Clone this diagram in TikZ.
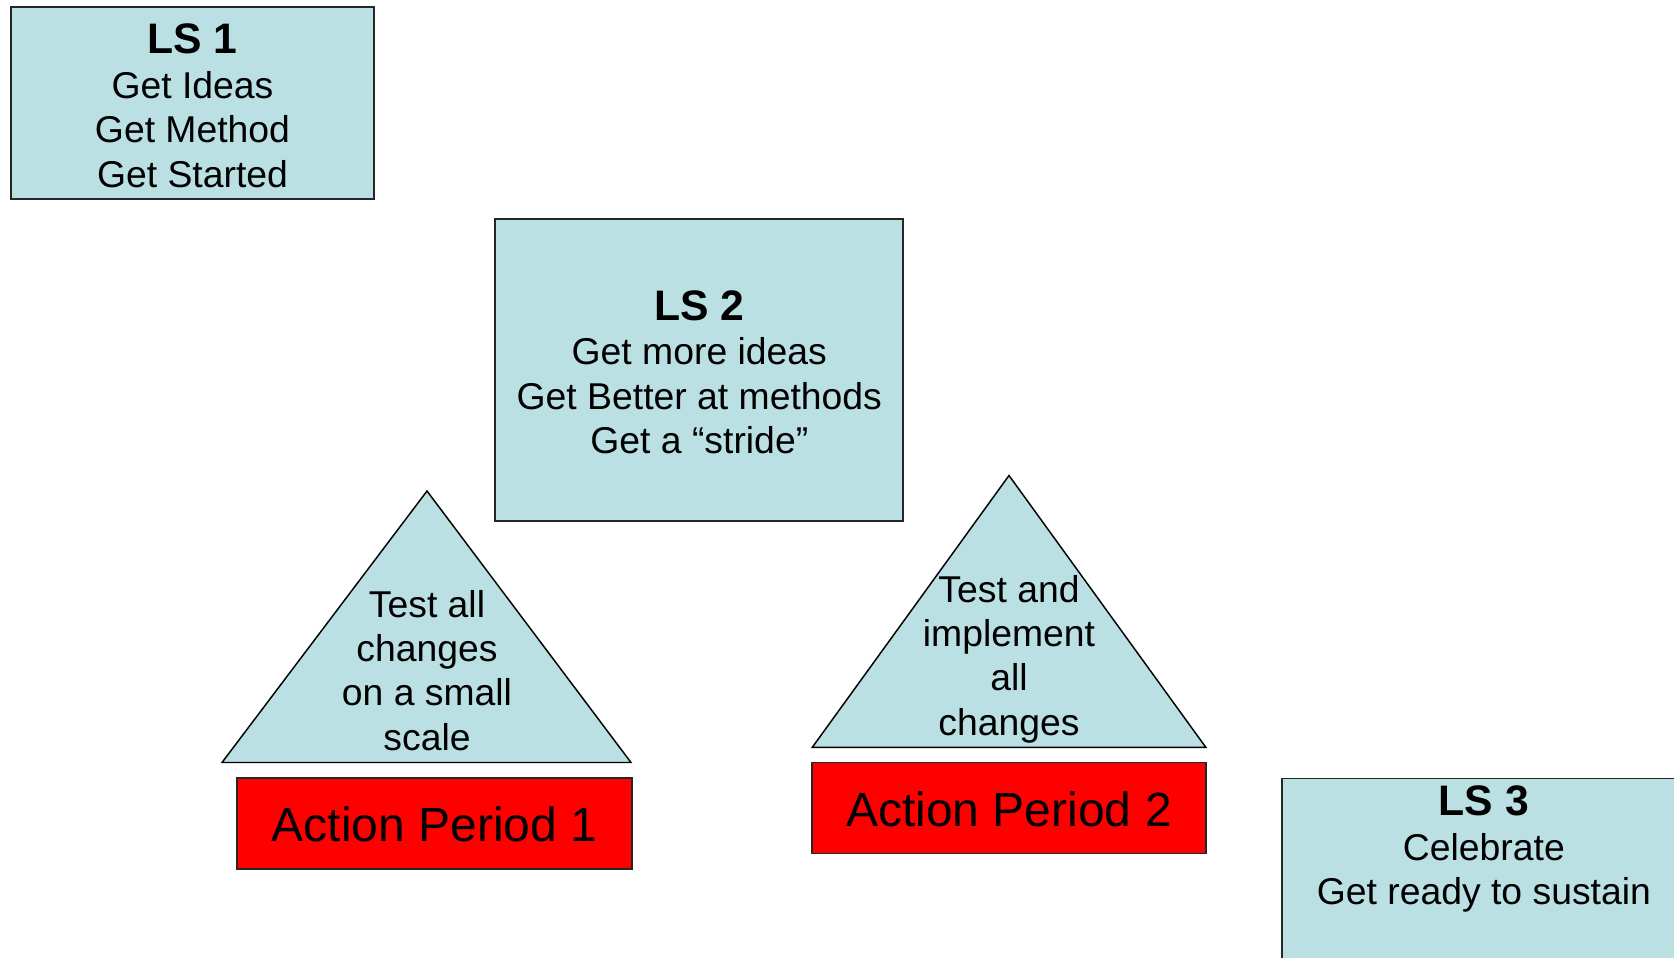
\documentclass[tikz,border=0pt]{standalone}
\usepackage{fontspec}
\setmainfont{Liberation Sans}
\definecolor{paleblue}{HTML}{BBE0E3}
\tikzset{
  lsbox/.style={draw=black!85, line width=1.3pt, fill=paleblue, inner sep=0pt},
  lstext/.style={align=center, inner sep=0pt, font=\fontsize{28}{33.4}\selectfont},
  apbox/.style={draw=black!85, line width=1.3pt, fill=red, inner sep=0pt},
  aptext/.style={inner sep=0pt, font=\fontsize{36}{40}\selectfont},
  tri/.style={draw=black, line width=1.1pt, fill=paleblue, line join=miter},
  tritext/.style={align=center, inner sep=0pt, font=\fontsize{28}{33.2}\selectfont},
}
\newcommand\lstitle[1]{{\fontsize{32}{33.4}\selectfont\bfseries #1}}

\begin{document}
\begin{tikzpicture}[x=0.75pt,y=-0.75pt]
\useasboundingbox (0,0) rectangle (1674,957);
\clip (0,0) rectangle (1674,957);

% learning sessions
\node[lsbox, minimum width=272.25pt, minimum height=144pt] (ls1) at (192.5,103) {};
\node[lstext] (ls1t) at ([yshift=-2pt]ls1.center)
  {\lstitle{LS 1}\\Get Ideas\\Get Method\\Get Started};
\node[lsbox, minimum width=306pt, minimum height=226.5pt] (ls2) at (699.3,370) {};
\node[lstext] (ls2t) at ([yshift=-1.6pt]ls2.center)
  {\lstitle{LS 2}\\Get more ideas\\Get Better at methods\\Get a “stride”};
\node[lsbox, minimum width=303pt, minimum height=200pt, anchor=north west] (ls3) at (1281,777.5) {};
\node[lstext, anchor=north] (ls3t) at ([yshift=-6pt]ls3.north)
  {\lstitle{LS 3}\\Celebrate\\Get ready to sustain};

% action period 1
\coordinate (t1a) at (427,491);
\coordinate (t1l) at (222,762.5);
\coordinate (t1r) at (631,762.5);
\draw[tri] (t1a) -- (t1l) -- (t1r) -- cycle;
\node[tritext] (t1t) at (427,670.5) {Test all\\changes\\on a small\\scale};
\node[apbox, minimum width=296pt, minimum height=68.5pt] (ap1) at (434.4,823.3) {};
\node[aptext] (ap1t) at ([yshift=-0.8pt]ap1.center) {Action Period 1};

% action period 2
\coordinate (t2a) at (1009,475.5);
\coordinate (t2l) at (812.3,747.3);
\coordinate (t2r) at (1205.8,747.3);
\draw[tri] (t2a) -- (t2l) -- (t2r) -- cycle;
\node[tritext] (t2t) at (1009,659) {Test and\\implement\\all\\changes};
\node[apbox, minimum width=295pt, minimum height=68.25pt] (ap2) at (1009,808) {};
\node[aptext] (ap2t) at ([yshift=-0.8pt]ap2.center) {Action Period 2};
\end{tikzpicture}
\end{document}
